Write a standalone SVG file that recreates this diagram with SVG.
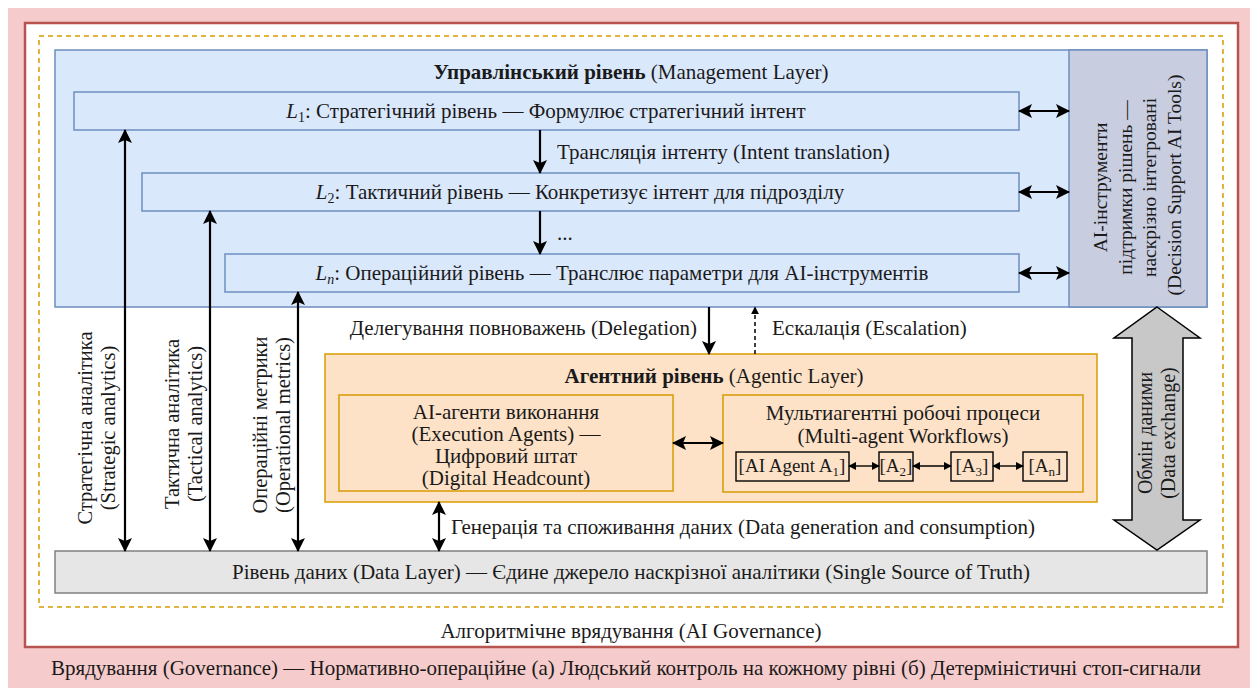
<svg xmlns="http://www.w3.org/2000/svg" width="1250" height="688" viewBox="0 0 1250 688">
  <style>
    text { font-family: "Liberation Serif", "Times New Roman", serif; font-size: 21px; fill: #1a1a1a; }
    .c { text-anchor: middle; }
    .e { text-anchor: end; }
    .b { font-weight: bold; }
    .i { font-style: italic; }
    .sm { font-size: 14px; }
    .vt { font-size: 19.5px; }
    .va { font-size: 20.5px; }
    .ag-lbl { font-size: 19px; }
    .ag-lbl .sm { font-size: 13px; }
    .conn { stroke: #000; stroke-width: 2.2; fill: none; }
    .thin { stroke: #000; stroke-width: 1.4; fill: none; }
    .lvl { fill: #dae8fc; stroke: #6c8ebf; stroke-width: 1.5; }
    .ag { fill: #fde2c8; stroke: #d79b00; stroke-width: 1.5; }
    .box { fill: none; stroke: #000; stroke-width: 1.4; }
  </style>
  <defs>
    <marker id="ah" viewBox="0 0 14 14" refX="13" refY="7" markerWidth="14" markerHeight="14" markerUnits="userSpaceOnUse" orient="auto-start-reverse">
      <path d="M0,0 L14,7 L0,14 L3,7 z" fill="#000"/>
    </marker>
    <marker id="ahs" viewBox="0 0 10 10" refX="9" refY="5" markerWidth="8" markerHeight="8" markerUnits="userSpaceOnUse" orient="auto-start-reverse">
      <path d="M0,0 L10,5 L0,10 z" fill="#000"/>
    </marker>
  </defs>

  <!-- governance frame -->
  <g id="governance">
    <rect x="8" y="8" width="1250" height="690" fill="#f5cbcb"/>
    <rect x="25" y="23" width="1213" height="624" fill="#ffffff" stroke="#b85450" stroke-width="2.5"/>
    <text class="c" x="626" y="675">Врядування (Governance) — Нормативно-операційне (а) Людський контроль на кожному рівні (б) Детерміністичні стоп-сигнали</text>
  </g>

  <g id="ai-governance">
    <rect x="39" y="36" width="1184" height="571" fill="none" stroke="#d79b00" stroke-width="1.5" stroke-dasharray="5,4"/>
    <text class="c" x="631" y="638">Алгоритмічне врядування (AI Governance)</text>
  </g>

  <!-- management layer -->
  <g id="management-layer">
    <rect class="lvl" x="55" y="50" width="1152" height="257"/>
    <text class="c" x="631" y="79"><tspan class="b">Управлінський рівень</tspan> (Management Layer)</text>
  </g>

  <g id="ai-tools">
    <rect x="1069" y="50" width="138" height="257" fill="#c8cde0" stroke="#6c8ebf" stroke-width="1.5"/>
    <text class="c vt" transform="translate(1138,185) rotate(-90)">
      <tspan x="0" y="-31">AI-інструменти</tspan>
      <tspan x="0" y="-6">підтримки рішень —</tspan>
      <tspan x="0" y="18">наскрізно інтегровані</tspan>
      <tspan x="0" y="43">(Decision Support AI Tools)</tspan>
    </text>
  </g>

  <g id="l1">
    <rect class="lvl" x="74" y="92" width="945" height="38"/>
    <text class="c" x="546" y="118"><tspan class="i">L</tspan><tspan class="sm" dy="4">1</tspan><tspan dy="-4">: Стратегічний рівень — Формулює стратегічний інтент</tspan></text>
  </g>

  <g id="l2">
    <rect class="lvl" x="142" y="173" width="877" height="38"/>
    <text class="c" x="580" y="199"><tspan class="i">L</tspan><tspan class="sm" dy="4">2</tspan><tspan dy="-4">: Тактичний рівень — Конкретизує інтент для підрозділу</tspan></text>
  </g>

  <g id="ln">
    <rect class="lvl" x="225" y="254" width="794" height="38"/>
    <text class="c" x="622" y="280"><tspan class="i">L</tspan><tspan class="sm i" dy="4">n</tspan><tspan dy="-4">: Операційний рівень — Транслює параметри для AI-інструментів</tspan></text>
  </g>

  <!-- agentic layer -->
  <g id="agentic-layer">
    <rect class="ag" x="325" y="354" width="772" height="148"/>
    <text class="c" x="714" y="383"><tspan class="b">Агентний рівень</tspan> (Agentic Layer)</text>
  </g>

  <g id="execution-agents">
    <rect class="ag" x="339" y="395" width="334" height="96"/>
    <text class="c" x="506" y="419">AI-агенти виконання</text>
    <text class="c" x="506" y="441">(Execution Agents) —</text>
    <text class="c" x="506" y="463">Цифровий штат</text>
    <text class="c" x="506" y="485">(Digital Headcount)</text>
  </g>

  <g id="multi-agent">
    <rect class="ag" x="723" y="395" width="360" height="97"/>
    <text class="c" x="903" y="420">Мультиагентні робочі процеси</text>
    <text class="c" x="903" y="443">(Multi-agent Workflows)</text>
    <rect class="box" x="736" y="452" width="113" height="29"/>
    <text class="c ag-lbl" x="792" y="472">[AI Agent A<tspan class="sm" dy="4">1</tspan><tspan dy="-4">]</tspan></text>
    <rect class="box" x="879" y="452" width="34" height="29"/>
    <text class="c ag-lbl" x="896" y="472">[A<tspan class="sm" dy="4">2</tspan><tspan dy="-4">]</tspan></text>
    <rect class="box" x="951" y="452" width="42" height="29"/>
    <text class="c ag-lbl" x="972" y="472">[A<tspan class="sm" dy="4">3</tspan><tspan dy="-4">]</tspan></text>
    <rect class="box" x="1023" y="452" width="44" height="29"/>
    <text class="c ag-lbl" x="1045" y="472">[A<tspan class="sm" dy="4">n</tspan><tspan dy="-4">]</tspan></text>
  </g>

  <!-- data layer -->
  <g id="data-layer">
    <rect x="55" y="551" width="1152" height="42" fill="#e6e6e6" stroke="#808080" stroke-width="1.5"/>
    <text class="c" x="631" y="579">Рівень даних (Data Layer) — Єдине джерело наскрізної аналітики (Single Source of Truth)</text>
  </g>

  <!-- connectors -->
  <g id="connectors">
    <!-- intent cascade -->
    <line class="conn" x1="540" y1="130" x2="540" y2="173" marker-end="url(#ah)"/>
    <text x="557" y="159">Трансляція інтенту (Intent translation)</text>
    <line class="conn" x1="540" y1="211" x2="540" y2="254" marker-end="url(#ah)"/>
    <text x="557" y="240">...</text>

    <!-- levels to decision tools -->
    <line class="conn" x1="1019" y1="111" x2="1069" y2="111" marker-start="url(#ah)" marker-end="url(#ah)"/>
    <line class="conn" x1="1019" y1="192" x2="1069" y2="192" marker-start="url(#ah)" marker-end="url(#ah)"/>
    <line class="conn" x1="1019" y1="273" x2="1069" y2="273" marker-start="url(#ah)" marker-end="url(#ah)"/>

    <!-- analytics feeds -->
    <line class="conn" x1="125" y1="130" x2="125" y2="551" marker-start="url(#ah)" marker-end="url(#ah)"/>
    <text class="c va" transform="translate(103,428) rotate(-90)"><tspan x="0" y="-11">Стратегічна аналітика</tspan><tspan x="0" y="12">(Strategic analytics)</tspan></text>
    <line class="conn" x1="210" y1="211" x2="210" y2="551" marker-start="url(#ah)" marker-end="url(#ah)"/>
    <text class="c va" transform="translate(190,424) rotate(-90)"><tspan x="0" y="-11">Тактична аналітика</tspan><tspan x="0" y="12">(Tactical analytics)</tspan></text>
    <line class="conn" x1="298" y1="292" x2="298" y2="551" marker-start="url(#ah)" marker-end="url(#ah)"/>
    <text class="c va" transform="translate(278,425) rotate(-90)"><tspan x="0" y="-11">Операційні метрики</tspan><tspan x="0" y="12">(Operational metrics)</tspan></text>

    <!-- delegation / escalation -->
    <line class="conn" x1="709" y1="307" x2="709" y2="354" marker-end="url(#ah)"/>
    <text class="e" x="697" y="335">Делегування повноважень (Delegation)</text>
    <line x1="755" y1="354" x2="755" y2="307" stroke="#000" stroke-width="1.5" stroke-dasharray="4,3" marker-end="url(#ahs)"/>
    <text x="772" y="335">Ескалація (Escalation)</text>

    <!-- agents exchange -->
    <line class="conn" x1="673" y1="443" x2="723" y2="443" marker-start="url(#ah)" marker-end="url(#ah)"/>
    <line class="thin" x1="849" y1="466" x2="879" y2="466" marker-start="url(#ahs)" marker-end="url(#ahs)"/>
    <line class="thin" x1="913" y1="466" x2="951" y2="466" marker-start="url(#ahs)" marker-end="url(#ahs)"/>
    <line class="thin" x1="993" y1="466" x2="1023" y2="466" marker-start="url(#ahs)" marker-end="url(#ahs)"/>

    <!-- data generation -->
    <line class="conn" x1="439" y1="502" x2="439" y2="551" marker-start="url(#ah)" marker-end="url(#ah)"/>
    <text x="451" y="534">Генерація та споживання даних (Data generation and consumption)</text>

    <!-- data exchange block arrow -->
    <polygon points="1157,307 1200,338 1183,338 1183,520 1200,520 1157,550 1114,520 1132,520 1132,338 1114,338" fill="#c8c8c8" stroke="#000" stroke-width="1.5" stroke-linejoin="miter"/>
    <text class="c" style="font-size:20px" transform="translate(1157,433) rotate(-90)"><tspan x="0" y="-5">Обмін даними</tspan><tspan x="0" y="18">(Data exchange)</tspan></text>
  </g>
</svg>
